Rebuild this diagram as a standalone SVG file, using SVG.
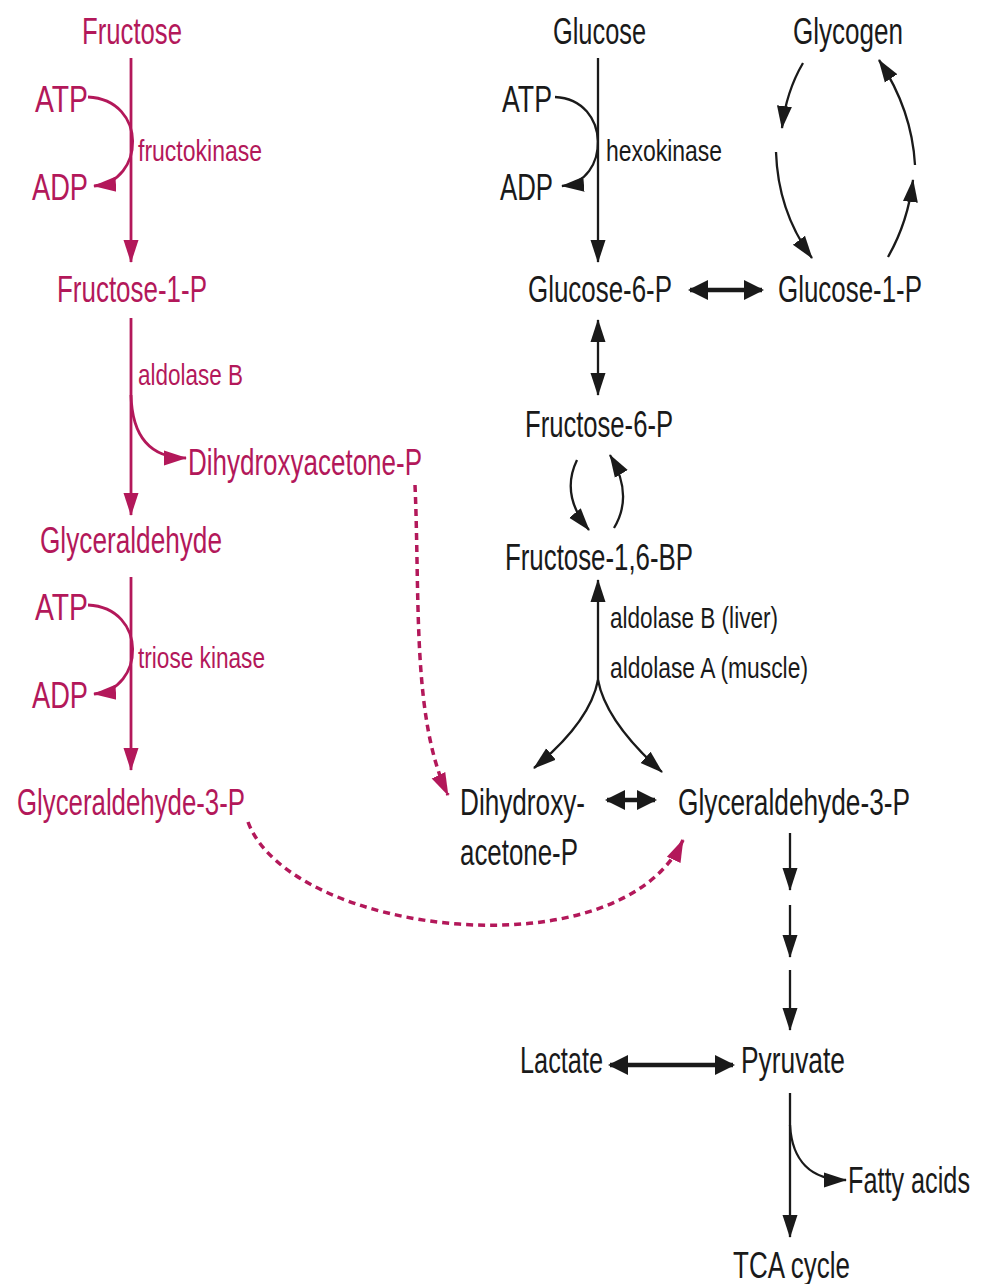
<svg xmlns="http://www.w3.org/2000/svg" width="988" height="1284" viewBox="0 0 988 1284">
<style>
text{font-family:"Liberation Sans Narrow","Liberation Sans",Arial,sans-serif}
.m{font-size:37px}
.e{font-size:30px}
.p{fill:#b3185a}
.k{fill:#1a1a1a}
.lp{fill:none;stroke:#b3185a;stroke-width:2.8}
.lk{fill:none;stroke:#1a1a1a;stroke-width:2.3}
.dp{fill:none;stroke:#b3185a;stroke-width:3.5;stroke-dasharray:7 5}
.tk{fill:none;stroke:#1a1a1a;stroke-width:4.5}
</style>
<defs>
<marker id="ap" markerUnits="userSpaceOnUse" markerWidth="24" markerHeight="18" refX="22" refY="9" orient="auto-start-reverse"><path d="M0,1.5 L23,9 L0,16.5 z" fill="#b3185a"/></marker>
<marker id="ak" markerUnits="userSpaceOnUse" markerWidth="24" markerHeight="18" refX="22" refY="9" orient="auto-start-reverse"><path d="M0,1.5 L23,9 L0,16.5 z" fill="#1a1a1a"/></marker>
<marker id="ab" markerUnits="userSpaceOnUse" markerWidth="22" markerHeight="22" refX="18" refY="11" orient="auto-start-reverse"><path d="M0,1 L20,11 L0,21 z" fill="#1a1a1a"/></marker>
</defs>

<g id="connectors">
<path class="lp" d="M131 58 L131 262" marker-end="url(#ap)"/>
<path class="lp" d="M88 97 C148 100,145 182,94 186" marker-end="url(#ap)"/>
<path class="lp" d="M131 318 L131 515" marker-end="url(#ap)"/>
<path class="lp" d="M131 395 C132 432,146 458,186 458" marker-end="url(#ap)"/>
<path class="lp" d="M131 577 L131 770" marker-end="url(#ap)"/>
<path class="lp" d="M88 605 C148 608,145 690,94 694" marker-end="url(#ap)"/>
<path class="dp" d="M415 485 C420 600,412 720,448 795" marker-end="url(#ap)"/>
<path class="dp" d="M248 822 C290 935,620 975,683 840" marker-end="url(#ap)"/>
<path class="lk" d="M598 58 L598 262" marker-end="url(#ak)"/>
<path class="lk" d="M555 97 C612 100,610 182,562 186" marker-end="url(#ak)"/>
<path class="lk" d="M803 63 Q786 92 782 128" marker-end="url(#ak)"/>
<path class="lk" d="M776 152 Q778 212 812 258" marker-end="url(#ak)"/>
<path class="lk" d="M888 257 Q908 222 913 180" marker-end="url(#ak)"/>
<path class="lk" d="M915 165 Q912 110 879 60" marker-end="url(#ak)"/>
<path class="tk" d="M690 290 L762 290" marker-start="url(#ab)" marker-end="url(#ab)"/>
<path class="lk" d="M598 320 L598 395" marker-start="url(#ak)" marker-end="url(#ak)"/>
<path class="lk" d="M577 460 Q560 495 589 530" marker-end="url(#ak)"/>
<path class="lk" d="M614 528 Q634 495 610 455" marker-end="url(#ak)"/>
<path class="lk" d="M598 685 L598 580" marker-end="url(#ak)"/>
<path class="lk" d="M598 680 Q590 722 534 768" marker-end="url(#ak)"/>
<path class="lk" d="M598 680 Q606 722 662 772" marker-end="url(#ak)"/>
<path class="tk" d="M607 800 L655 800" marker-start="url(#ab)" marker-end="url(#ab)"/>
<path class="lk" d="M790 833 L790 890" marker-end="url(#ak)"/>
<path class="lk" d="M790 905 L790 957" marker-end="url(#ak)"/>
<path class="lk" d="M790 970 L790 1030" marker-end="url(#ak)"/>
<path class="tk" d="M610 1065 L733 1065" marker-start="url(#ab)" marker-end="url(#ab)"/>
<path class="lk" d="M790 1093 L790 1237" marker-end="url(#ak)"/>
<path class="lk" d="M790 1125 C792 1160,810 1180,846 1180" marker-end="url(#ak)"/>
</g>

<g id="n-fructose"><text class="m p" x="82" y="44" textLength="100" lengthAdjust="spacingAndGlyphs">Fructose</text></g>
<g id="n-atp1"><text class="m p" x="35" y="112" textLength="53" lengthAdjust="spacingAndGlyphs">ATP</text></g>
<g id="n-adp1"><text class="m p" x="32" y="200" textLength="56" lengthAdjust="spacingAndGlyphs">ADP</text></g>
<g id="l-fructokinase"><text class="e p" x="138" y="161" textLength="124" lengthAdjust="spacingAndGlyphs">fructokinase</text></g>
<g id="n-fructose1p"><text class="m p" x="57" y="302" textLength="150" lengthAdjust="spacingAndGlyphs">Fructose-1-P</text></g>
<g id="l-aldolaseB"><text class="e p" x="138" y="385" textLength="105" lengthAdjust="spacingAndGlyphs">aldolase B</text></g>
<g id="n-dhap1"><text class="m p" x="188" y="475" textLength="234" lengthAdjust="spacingAndGlyphs">Dihydroxyacetone-P</text></g>
<g id="n-glyceraldehyde"><text class="m p" x="40" y="553" textLength="182" lengthAdjust="spacingAndGlyphs">Glyceraldehyde</text></g>
<g id="n-atp2"><text class="m p" x="35" y="620" textLength="53" lengthAdjust="spacingAndGlyphs">ATP</text></g>
<g id="l-triosekinase"><text class="e p" x="138" y="668" textLength="127" lengthAdjust="spacingAndGlyphs">triose kinase</text></g>
<g id="n-adp2"><text class="m p" x="32" y="708" textLength="56" lengthAdjust="spacingAndGlyphs">ADP</text></g>
<g id="n-g3p1"><text class="m p" x="17" y="815" textLength="228" lengthAdjust="spacingAndGlyphs">Glyceraldehyde-3-P</text></g>

<g id="n-glucose"><text class="m k" x="553" y="44" textLength="93" lengthAdjust="spacingAndGlyphs">Glucose</text></g>
<g id="n-atp3"><text class="m k" x="502" y="112" textLength="50" lengthAdjust="spacingAndGlyphs">ATP</text></g>
<g id="n-adp3"><text class="m k" x="500" y="200" textLength="53" lengthAdjust="spacingAndGlyphs">ADP</text></g>
<g id="l-hexokinase"><text class="e k" x="606" y="161" textLength="116" lengthAdjust="spacingAndGlyphs">hexokinase</text></g>
<g id="n-glycogen"><text class="m k" x="793" y="44" textLength="110" lengthAdjust="spacingAndGlyphs">Glycogen</text></g>
<g id="n-glucose6p"><text class="m k" x="528" y="302" textLength="144" lengthAdjust="spacingAndGlyphs">Glucose-6-P</text></g>
<g id="n-glucose1p"><text class="m k" x="778" y="302" textLength="144" lengthAdjust="spacingAndGlyphs">Glucose-1-P</text></g>
<g id="n-fructose6p"><text class="m k" x="525" y="437" textLength="148" lengthAdjust="spacingAndGlyphs">Fructose-6-P</text></g>
<g id="n-fructose16bp"><text class="m k" x="505" y="570" textLength="188" lengthAdjust="spacingAndGlyphs">Fructose-1,6-BP</text></g>
<g id="l-aldolases"><text class="e k" x="610" y="628" textLength="168" lengthAdjust="spacingAndGlyphs">aldolase B (liver)</text><text class="e k" x="610" y="678" textLength="198" lengthAdjust="spacingAndGlyphs">aldolase A (muscle)</text></g>
<g id="n-dhap2"><text class="m k" x="460" y="815" textLength="125" lengthAdjust="spacingAndGlyphs">Dihydroxy-</text><text class="m k" x="460" y="865" textLength="118" lengthAdjust="spacingAndGlyphs">acetone-P</text></g>
<g id="n-g3p2"><text class="m k" x="678" y="815" textLength="232" lengthAdjust="spacingAndGlyphs">Glyceraldehyde-3-P</text></g>
<g id="n-lactate"><text class="m k" x="520" y="1073" textLength="83" lengthAdjust="spacingAndGlyphs">Lactate</text></g>
<g id="n-pyruvate"><text class="m k" x="741" y="1073" textLength="104" lengthAdjust="spacingAndGlyphs">Pyruvate</text></g>
<g id="n-fattyacids"><text class="m k" x="848" y="1193" textLength="122" lengthAdjust="spacingAndGlyphs">Fatty acids</text></g>
<g id="n-tca"><text class="m k" x="733" y="1278" textLength="117" lengthAdjust="spacingAndGlyphs">TCA cycle</text></g>
</svg>
